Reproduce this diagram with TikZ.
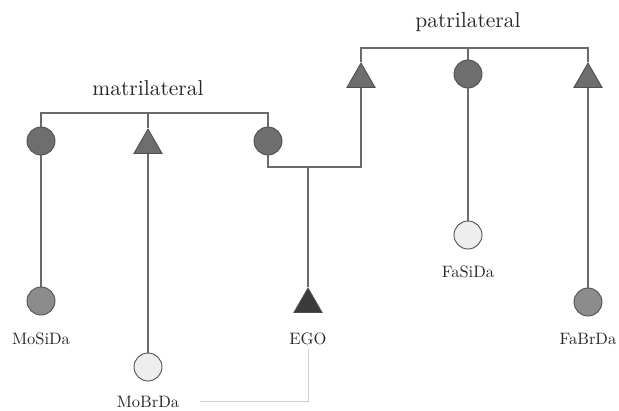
\documentclass[tikz,border=0pt]{standalone}
\usepackage{fontspec}
\setmainfont{lmroman10-regular.otf}
\usetikzlibrary{shapes.geometric}
\definecolor{linegray}{HTML}{6A6A6A}
\definecolor{edgegray}{HTML}{505050}
\definecolor{darkfill}{HTML}{6E6E6E}
\definecolor{midfill}{HTML}{8C8C8C}
\definecolor{lightfill}{HTML}{EEEEEE}
\definecolor{egofill}{HTML}{3A3A3A}
\definecolor{faintline}{HTML}{CFCFCF}
\begin{document}
\begin{tikzpicture}[x=1pt,y=-1pt,
  female/.style={circle,draw=edgegray,line width=0.9pt,minimum size=28pt,inner sep=0pt},
  male/.style={regular polygon,regular polygon sides=3,draw=edgegray,line width=0.9pt,minimum size=32.4pt,inner sep=0pt},
  kinline/.style={draw=linegray,line width=1.2pt},
  heading/.style={font=\fontsize{21.5}{24}\selectfont,text=black!85},
  label/.style={font=\fontsize{16.5}{19}\selectfont,text=black!85}]
\useasboundingbox (0,0) rectangle (619,410);
% parents generation
\node[female,fill=darkfill] (mosi) at (41,141) {};
\node[male,fill=darkfill] (mobr) at (148,145.3) {};
\node[female,fill=darkfill] (mo) at (268,141) {};
\node[male,fill=darkfill] (fa) at (361,79.3) {};
\node[female,fill=darkfill] (fasi) at (468,74) {};
\node[male,fill=darkfill] (fabr) at (588,79.3) {};
% children generation
\node[female,fill=midfill] (mosida) at (41,301) {};
\node[female,fill=lightfill] (mobrda) at (148,367) {};
\node[male,fill=egofill] (ego) at (308,304.3) {};
\node[female,fill=lightfill] (fasida) at (468,235) {};
\node[female,fill=midfill] (fabrda) at (588,302) {};
% labels
\node[heading] (mat) at (148,88) {matrilateral};
\node[heading] (pat) at (468,22) {patrilateral};
\node[label] (mosidal) at (41,339) {MoSiDa};
\node[label] (mobrdal) at (148,402) {MoBrDa};
\node[label] (egol) at (308,339) {EGO};
\node[label] (fasidal) at (468,272) {FaSiDa};
\node[label] (fabrdal) at (588,339) {FaBrDa};
% sibling bars
\coordinate (matbar) at (148,113);
\coordinate (patbar) at (468,48);
\coordinate (marr) at (308,167);
\coordinate (faint) at (200,401);
\draw[kinline] (mosi.north) |- (matbar) -| (mo.north);
\draw[kinline] (mobr.north) -- (matbar);
\draw[kinline] (fa.north) |- (patbar) -| (fabr.north);
\draw[kinline] (fasi.north) -- (patbar);
% marriage and descent
\draw[kinline] (mo.south) |- (marr) -| (fa.south);
\draw[kinline] (marr) -- (ego.north);
\draw[kinline] (mosi.south) -- (mosida.north);
\draw[kinline] (mobr.south) -- (mobrda.north);
\draw[kinline] (fasi.south) -- (fasida.north);
\draw[kinline] (fabr.south) -- (fabrda.north);
% faint link
\draw[faintline,line width=1pt] (egol.south) |- (faint);
\end{tikzpicture}
\end{document}
